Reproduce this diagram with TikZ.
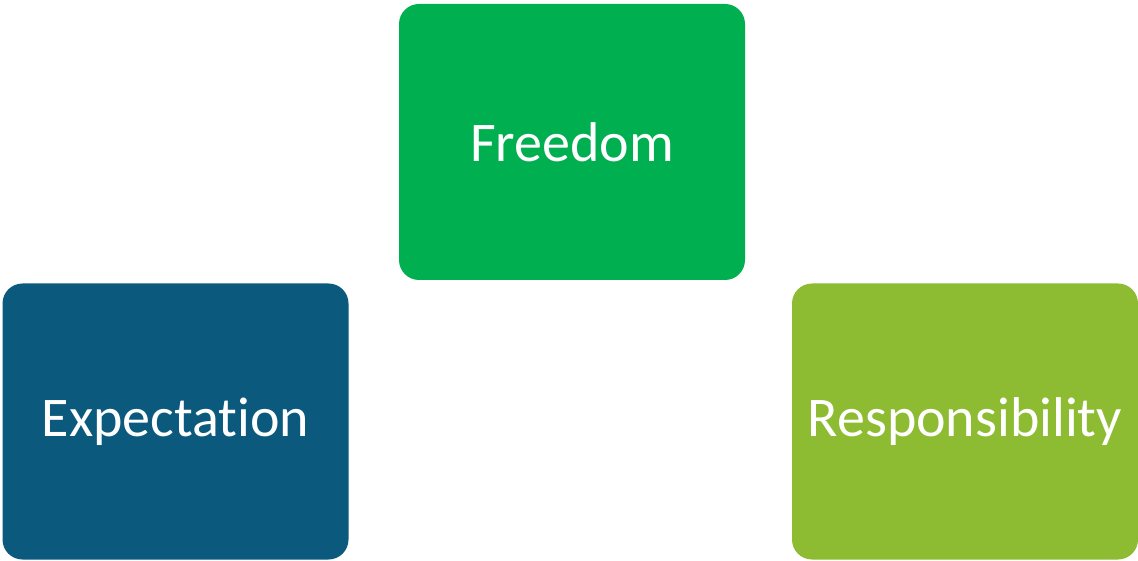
\documentclass[tikz,border=0pt]{standalone}
\usepackage{fontspec}
\setmainfont{Carlito}[Ligatures=NoCommon]
\definecolor{freegreen}{HTML}{00B050}
\definecolor{expblue}{HTML}{0B5A7E}
\definecolor{resgreen}{HTML}{8DBB31}
\begin{document}
\begin{tikzpicture}[x=1pt,y=-1pt,
  card/.style={rounded corners=20pt, minimum width=346pt, minimum height=276pt,
    inner sep=0pt, text=white, font=\fontsize{56}{64}\selectfont, anchor=center}]
\useasboundingbox (0,0) rectangle (1138,561);
\node[card, fill=freegreen] (free) at (572,142) {Freedom};
\node[card, fill=expblue] (exp) at (175.5,421.5) {Expectation};
\node[card, fill=resgreen] (res) at (965,421.5) {Responsibility};
\end{tikzpicture}
\end{document}
